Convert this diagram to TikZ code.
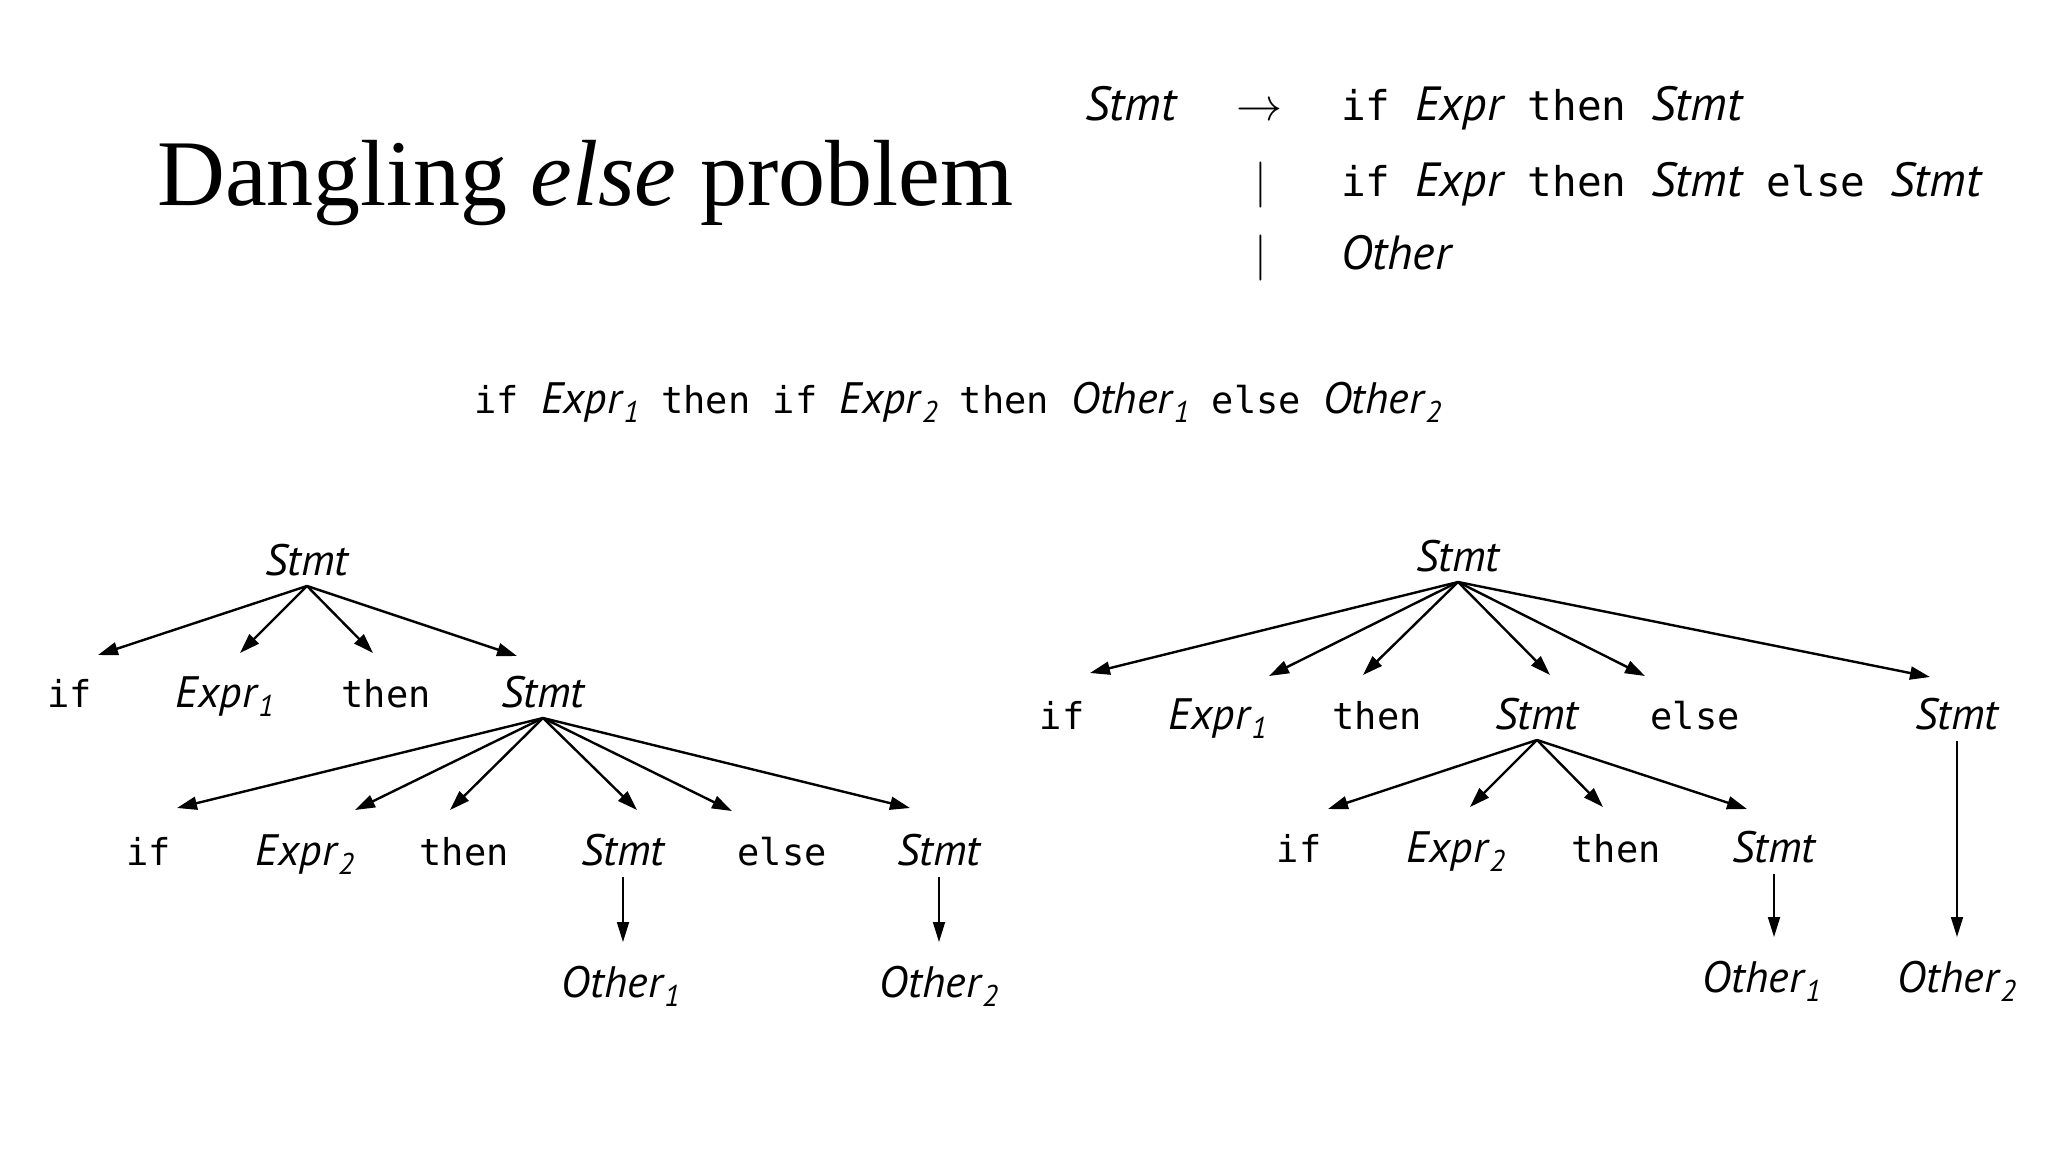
\documentclass[tikz,border=0pt]{standalone}
\usepackage{graphicx}
\usepackage{fontspec}
\setmainfont{Liberation Serif}
\newfontfamily\sansitf{PT Sans}
\newfontfamily\monof{DejaVu Sans Mono}
\usetikzlibrary{arrows.meta,calc}
\newcommand\kwd[1]{{\monof\fontsize{37pt}{40pt}\selectfont #1}}
\newcommand\ntm[1]{{\sansitf\itshape\fontsize{44pt}{48pt}\selectfont #1}}
\newcommand\gkwd[1]{{\monof\fontsize{41pt}{44pt}\selectfont #1}}
\newcommand\gntm[1]{{\sansitf\itshape\fontsize{48pt}{52pt}\selectfont #1}}
\newcommand\sbs[1]{\kern2pt\raisebox{-9pt}{\fontsize{30pt}{30pt}\selectfont #1}}
\newcommand\tarr[4]{\draw[arr] ([yshift=-11pt]#1.base) -- ([xshift=#3pt,yshift=#4pt]#2.base);}
\newcommand\varrow[2]{\draw[varr] ([yshift=-12pt]#1.base) -- ($(#1.base |- #2.base)+(0,-55)$);}
\begin{document}
\begin{tikzpicture}[x=1pt,y=-1pt,
  lbl/.style={inner sep=0pt, anchor=base},
  arr/.style={line width=2.4pt, -{Triangle[length=20pt,width=13pt]}},
  varr/.style={line width=1.8pt, -{Triangle[length=20pt,width=12pt]}}]
\fill[white] (0,0) rectangle (2048,1152);

% title
\node[lbl, anchor=base west] (title) at (157,205) {\fontsize{94pt}{100pt}\selectfont Dangling \textit{else} problem};

% grammar
\node[lbl, anchor=base west] (glhs) at (1085,120) {\gntm{Stmt}};
\node[lbl] (garr) at (1259,120) {\scalebox{4.6}{$\rightarrow$}};
\node[lbl] (gbar2) at (1261,196) {\scalebox{4.6}{$|$}};
\node[lbl] (gbar3) at (1261,269) {\scalebox{4.6}{$|$}};
\node[lbl, anchor=base west] (grhs1) at (1341,120) {\gkwd{if }\gntm{Expr}\gkwd{ then }\gntm{Stmt}};
\node[lbl, anchor=base west] (grhs2) at (1341,196) {\gkwd{if }\gntm{Expr}\gkwd{ then }\gntm{Stmt}\gkwd{ else }\gntm{Stmt}};
\node[lbl, anchor=base west] (grhs3) at (1341,269) {\gntm{Other}};

% sentence
\node[lbl, anchor=base west] (sent) at (474,413) {\kwd{if }\ntm{Expr\sbs{1}}\kwd{ then if }\ntm{Expr\sbs{2}}\kwd{ then }\ntm{Other\sbs{1}}\kwd{ else }\ntm{Other\sbs{2}}};

% ---------- left tree ----------
\node[lbl] (ls0) at (307,575) {\ntm{Stmt}};
\node[lbl] (l1if) at (70,707) {\kwd{if}};
\node[lbl] (l1e) at (225,707) {\ntm{Expr\sbs{1}}};
\node[lbl] (l1then) at (386,707) {\kwd{then}};
\node[lbl] (l1s) at (543,707) {\ntm{Stmt}};
\node[lbl] (l2if) at (149,865) {\kwd{if}};
\node[lbl] (l2e) at (305,865) {\ntm{Expr\sbs{2}}};
\node[lbl] (l2then) at (464,865) {\kwd{then}};
\node[lbl] (l2s) at (623,865) {\ntm{Stmt}};
\node[lbl] (l2else) at (782,865) {\kwd{else}};
\node[lbl] (l2s2) at (939,865) {\ntm{Stmt}};
\node[lbl] (l3o1) at (621,997) {\ntm{Other\sbs{1}}};
\node[lbl] (l3o2) at (939,997) {\ntm{Other\sbs{2}}};

\tarr{ls0}{l1if}{28}{52}
\tarr{ls0}{l1e}{15}{54}
\tarr{ls0}{l1then}{-13}{54}
\tarr{ls0}{l1s}{-26}{51}
\tarr{l1s}{l2if}{28}{57}
\tarr{l1s}{l2e}{50}{55}
\tarr{l1s}{l2then}{-14}{55}
\tarr{l1s}{l2s}{14}{55}
\tarr{l1s}{l2else}{-50}{54}
\tarr{l1s}{l2s2}{-29}{57}
\varrow{l2s}{l3o1}
\varrow{l2s2}{l3o2}

% ---------- right tree ----------
\node[lbl] (rs0) at (1458,571) {\ntm{Stmt}};
\node[lbl] (r1if) at (1062,729) {\kwd{if}};
\node[lbl] (r1e) at (1218,729) {\ntm{Expr\sbs{1}}};
\node[lbl] (r1then) at (1377,729) {\kwd{then}};
\node[lbl] (r1s) at (1537,729) {\ntm{Stmt}};
\node[lbl] (r1else) at (1695,729) {\kwd{else}};
\node[lbl] (r1s2) at (1957,729) {\ntm{Stmt}};
\node[lbl] (r2if) at (1299,862) {\kwd{if}};
\node[lbl] (r2e) at (1456,862) {\ntm{Expr\sbs{2}}};
\node[lbl] (r2then) at (1616,862) {\kwd{then}};
\node[lbl] (r2s) at (1774,862) {\ntm{Stmt}};
\node[lbl] (r3o1) at (1762,992) {\ntm{Other\sbs{1}}};
\node[lbl] (r3o2) at (1957,992) {\ntm{Other\sbs{2}}};

\tarr{rs0}{r1if}{28}{56}
\tarr{rs0}{r1e}{51}{53}
\tarr{rs0}{r1then}{-14}{54}
\tarr{rs0}{r1s}{13}{54}
\tarr{rs0}{r1else}{-50}{53}
\tarr{rs0}{r1s2}{-27}{52}
\tarr{r1s}{r2if}{29}{53}
\tarr{r1s}{r2e}{14}{55}
\tarr{r1s}{r2then}{-13}{55}
\tarr{r1s}{r2s}{-27}{53}
\varrow{r2s}{r3o1}
\varrow{r1s2}{r3o2}
\end{tikzpicture}
\end{document}
